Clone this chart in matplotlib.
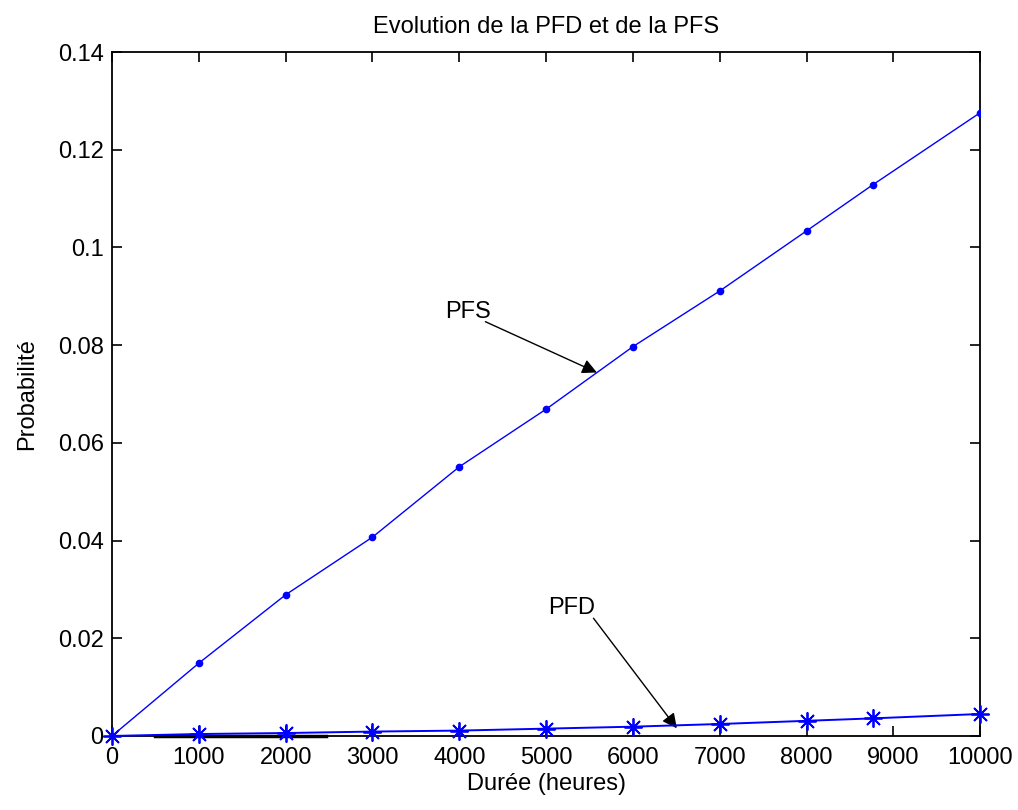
import matplotlib
matplotlib.use('Agg')
import matplotlib.pyplot as plt
from matplotlib.ticker import FuncFormatter

plt.rcParams['font.family'] = ['Liberation Sans', 'DejaVu Sans']

# durations (hours)
hours = [0, 1000, 2000, 3000, 4000, 5000, 6000, 7000, 8000, 8760, 10000]
# probabilities
pfs = [0, 0.0149, 0.0289, 0.0407, 0.0551, 0.0669, 0.0797, 0.0911, 0.1034, 0.1128, 0.1276]
pfd = [0, 0.0004, 0.0006, 0.0009, 0.0011, 0.0015, 0.0019, 0.00245, 0.0031, 0.0036, 0.0045]

# small black segment lying on the x axis
seg_x = [500, 2470]
seg_y = [0.00005, 0.00005]

# annotations: label, text pos, arrow start, arrow tip
notes = [
    ('PFS', (3840, 0.0868), (4300, 0.0848), (5584, 0.0744)),
    ('PFD', (5020, 0.0262), (5545, 0.0241), (6505, 0.00157)),
]

fs = 17

fig = plt.figure(figsize=(10.18, 8.10), dpi=100)
ax = fig.add_axes([0.110, 0.0914, 0.853, 0.8444])

ax.plot(seg_x, seg_y, color='black', lw=2.5, zorder=4, clip_on=False)
ax.plot(hours, pfs, color='blue', lw=1.0, marker='.', ms=9, zorder=3)
ax.plot(hours, pfd, color='blue', lw=1.4, marker=(8, 2, 0), ms=13, mew=1.3,
        zorder=5, clip_on=False)

for label, tpos, start, tip in notes:
    ax.text(tpos[0], tpos[1], label, ha='left', va='center', fontsize=fs)
    ax.annotate('', xy=tip, xytext=start,
                arrowprops=dict(arrowstyle='-|>', color='black', lw=1.0,
                                mutation_scale=22, shrinkA=0, shrinkB=0))

ax.set_xlim(0, 10000)
ax.set_ylim(0, 0.14)
ax.set_xticks(range(0, 10001, 1000))
ax.set_yticks([0, 0.02, 0.04, 0.06, 0.08, 0.1, 0.12, 0.14])
ax.yaxis.set_major_formatter(FuncFormatter(lambda v, p: '%g' % v))

ax.tick_params(direction='in', length=7, width=1.2, top=True, right=True,
               labelsize=fs)
ax.tick_params(axis='x', pad=8)
ax.tick_params(axis='y', pad=6)
for sp in ax.spines.values():
    sp.set_linewidth(1.3)

ax.set_title('Evolution de la PFD et de la PFS', fontsize=fs, pad=14)
ax.set_xlabel('Durée (heures)', fontsize=fs, labelpad=3)
ax.set_ylabel('Probabilité', fontsize=fs, labelpad=14)

fig.savefig('out.png', dpi=100)
